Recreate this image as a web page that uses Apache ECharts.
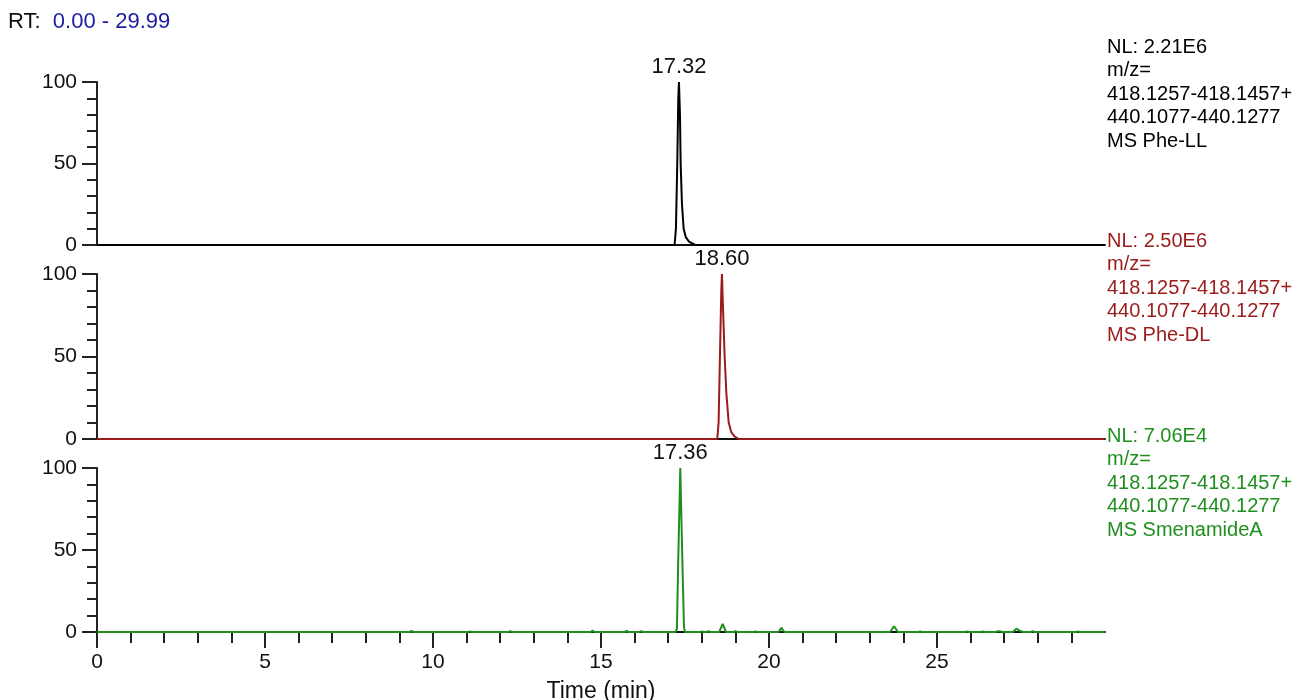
<!DOCTYPE html>
<html>
<head>
<meta charset="utf-8">
<script src="https://cdn.jsdelivr.net/npm/echarts@6/dist/echarts.min.js"></script>
<style>html,body{margin:0;padding:0;background:#fff;}#c{width:1297px;height:700px;}</style>
</head>
<body>
<div id="c"></div>
<script>
// ---- data ----
const rtRange = "0.00 - 29.99";
const xMajorTicks = [0, 5, 10, 15, 20, 25];
const xMinorTicks = [0,1,2,3,4,5,6,7,8,9,10,11,12,13,14,15,16,17,18,19,20,21,22,23,24,25,26,27,28,29];

const llTime = [0, 17.19, 17.23, 17.27, 17.30, 17.32, 17.35, 17.37, 17.41, 17.46, 17.52, 17.62, 17.80, 29.99];
const llInt  = [0, 0, 10, 50, 90, 100, 80, 50, 25, 10, 5, 2, 0, 0];

const dlTime = [0, 18.46, 18.50, 18.54, 18.58, 18.60, 18.63, 18.68, 18.73, 18.80, 18.88, 18.98, 19.10, 29.99];
const dlInt  = [0, 0, 10, 50, 90, 100, 80, 50, 28, 10, 4, 1.5, 0, 0];

const smTime = [0, 9.30, 9.36, 9.42, 11.04, 11.10, 11.16, 12.24, 12.30, 12.36, 14.69, 14.75, 14.81,
  15.70, 15.76, 15.82, 16.14, 16.20, 16.26, 17.22, 17.26, 17.30, 17.36, 17.42, 17.47, 17.50,
  17.94, 18.00, 18.06, 18.14, 18.20, 18.26, 18.52, 18.62, 18.72, 18.94, 19.00, 19.06, 19.54, 19.60, 19.66,
  20.28, 20.37, 20.46, 23.60, 23.72, 23.84, 24.44, 24.50, 24.56, 25.84, 25.90, 25.96, 26.29, 26.35, 26.41,
  26.74, 26.80, 26.86, 26.95, 27.01, 27.26, 27.36, 27.46, 27.56, 27.79, 27.85, 27.91, 29.14, 29.20, 29.26, 29.99];
const smInt  = [0, 0, 0.6, 0, 0, 0.4, 0, 0, 0.5, 0, 0, 0.8, 0,
  0, 0.6, 0, 0, 0.5, 0, 0, 2, 45, 100, 45, 3, 0,
  0, 0.4, 0, 0, 0.5, 0, 0, 5, 0, 0, 0.5, 0, 0, 0.3, 0,
  0, 2.5, 0, 0, 3.5, 0, 0, 0.3, 0, 0, 0.4, 0, 0, 0.3, 0,
  0, 0.4, 0.5, 0, 0, 0, 2, 0.8, 0, 0, 0.5, 0, 0, 0.4, 0, 0];

const peakTimes = [17.32, 18.60, 17.36];
const peakLabels = ["17.32", "18.60", "17.36"];

const nlLabels = ["NL: 2.21E6", "NL: 2.50E6", "NL: 7.06E4"];
const mzLines = ["m/z=", "418.1257-418.1457+", "440.1077-440.1277"];
const traceNames = ["MS Phe-LL", "MS Phe-DL", "MS SmenamideA"];

// ---- styling / layout ----
const colors = ["#000000", "#9b1b1b", "#1f8f1f"];
const FONT = "Liberation Sans, Arial, sans-serif";
const grids = [
  {left: 97, width: 1008, top: 82, height: 163, outerBoundsMode: 'none', containLabel: false},
  {left: 97, width: 1008, top: 274, height: 165, outerBoundsMode: 'none', containLabel: false},
  {left: 97, width: 1008, top: 468, height: 164, outerBoundsMode: 'none', containLabel: false}
];
const nlTop = [47, 241, 436];

function zip(a, b) { return a.map((v, i) => [v, b[i]]); }
const traces = [zip(llTime, llInt), zip(dlTime, dlInt), zip(smTime, smInt)];

const xAxes = [], yAxes = [], series = [];
for (let i = 0; i < 3; i++) {
  xAxes.push({
    type: 'value', gridIndex: i, min: 0, max: 30, position: 'bottom',
    axisLine: {show: true, onZero: false, lineStyle: {color: '#111', width: 2}},
    axisTick: {show: false}, axisLabel: {show: false}, splitLine: {show: false}
  });
  yAxes.push({
    type: 'value', gridIndex: i, min: 0, max: 100, interval: 50,
    axisLine: {show: true, lineStyle: {color: '#222', width: 2}},
    axisTick: {show: true, length: 15, lineStyle: {color: '#222', width: 2}},
    minorTick: {show: true, splitNumber: 5, length: 10, lineStyle: {color: '#222', width: 2}},
    axisLabel: {show: true, margin: 20, fontSize: 21, color: '#111', fontFamily: FONT},
    splitLine: {show: false}
  });
  series.push({
    type: 'line', xAxisIndex: i, yAxisIndex: i, data: traces[i], symbol: 'none',
    lineStyle: {color: colors[i], width: 2}, z: 5, animation: false
  });
  series.push({
    type: 'scatter', xAxisIndex: i, yAxisIndex: i, symbolSize: 0,
    itemStyle: {opacity: 1},
    data: [[peakTimes[i], 100]], silent: true, animation: false,
    label: {show: true, position: 'top', distance: 4, formatter: () => peakLabels[i],
      fontSize: 22, color: '#111', fontFamily: FONT}
  });
}
// bottom axis ticks & labels on the third grid
xAxes.push({
  type: 'value', gridIndex: 2, min: 0, max: 30, position: 'bottom', offset: 0,
  axisLine: {show: false},
  axisTick: {show: true, length: 16, customValues: xMajorTicks, lineStyle: {color: '#222', width: 2}},
  axisLabel: {show: true, customValues: xMajorTicks, margin: 20, fontSize: 21, color: '#111', fontFamily: FONT},
  splitLine: {show: false},
  name: 'Time (min)', nameLocation: 'middle', nameGap: 48,
  nameTextStyle: {fontSize: 23, color: '#111', fontFamily: FONT}
});
xAxes.push({
  type: 'value', gridIndex: 2, min: 0, max: 30, position: 'bottom', offset: 0,
  axisLine: {show: false},
  axisTick: {show: true, length: 11, customValues: xMinorTicks, lineStyle: {color: '#222', width: 2}},
  axisLabel: {show: false}, splitLine: {show: false}
});

const graphics = [{
  type: 'text', left: 8, top: 11,
  style: {text: '{a|RT:}  {b|' + rtRange + '}', fontFamily: FONT, fontSize: 22,
    rich: {a: {fontSize: 22, fill: '#111', fontFamily: FONT}, b: {fontSize: 22, fill: '#1c1ca3', fontFamily: FONT}}}
}];
for (let i = 0; i < 3; i++) {
  const lines = [nlLabels[i]].concat(mzLines, [traceNames[i]]);
  graphics.push({
    type: 'text', left: 1107, top: nlTop[i] - 11.75,
    style: {text: lines.join('\n'), fontSize: 20, lineHeight: 23.5, fill: colors[i], fontFamily: FONT}
  });
}

const chart = echarts.init(document.getElementById('c'), null, {renderer: 'canvas'});
chart.setOption({
  animation: false,
  backgroundColor: '#ffffff',
  grid: grids,
  xAxis: xAxes,
  yAxis: yAxes,
  series: series,
  graphic: graphics
});
</script>
</body>
</html>
